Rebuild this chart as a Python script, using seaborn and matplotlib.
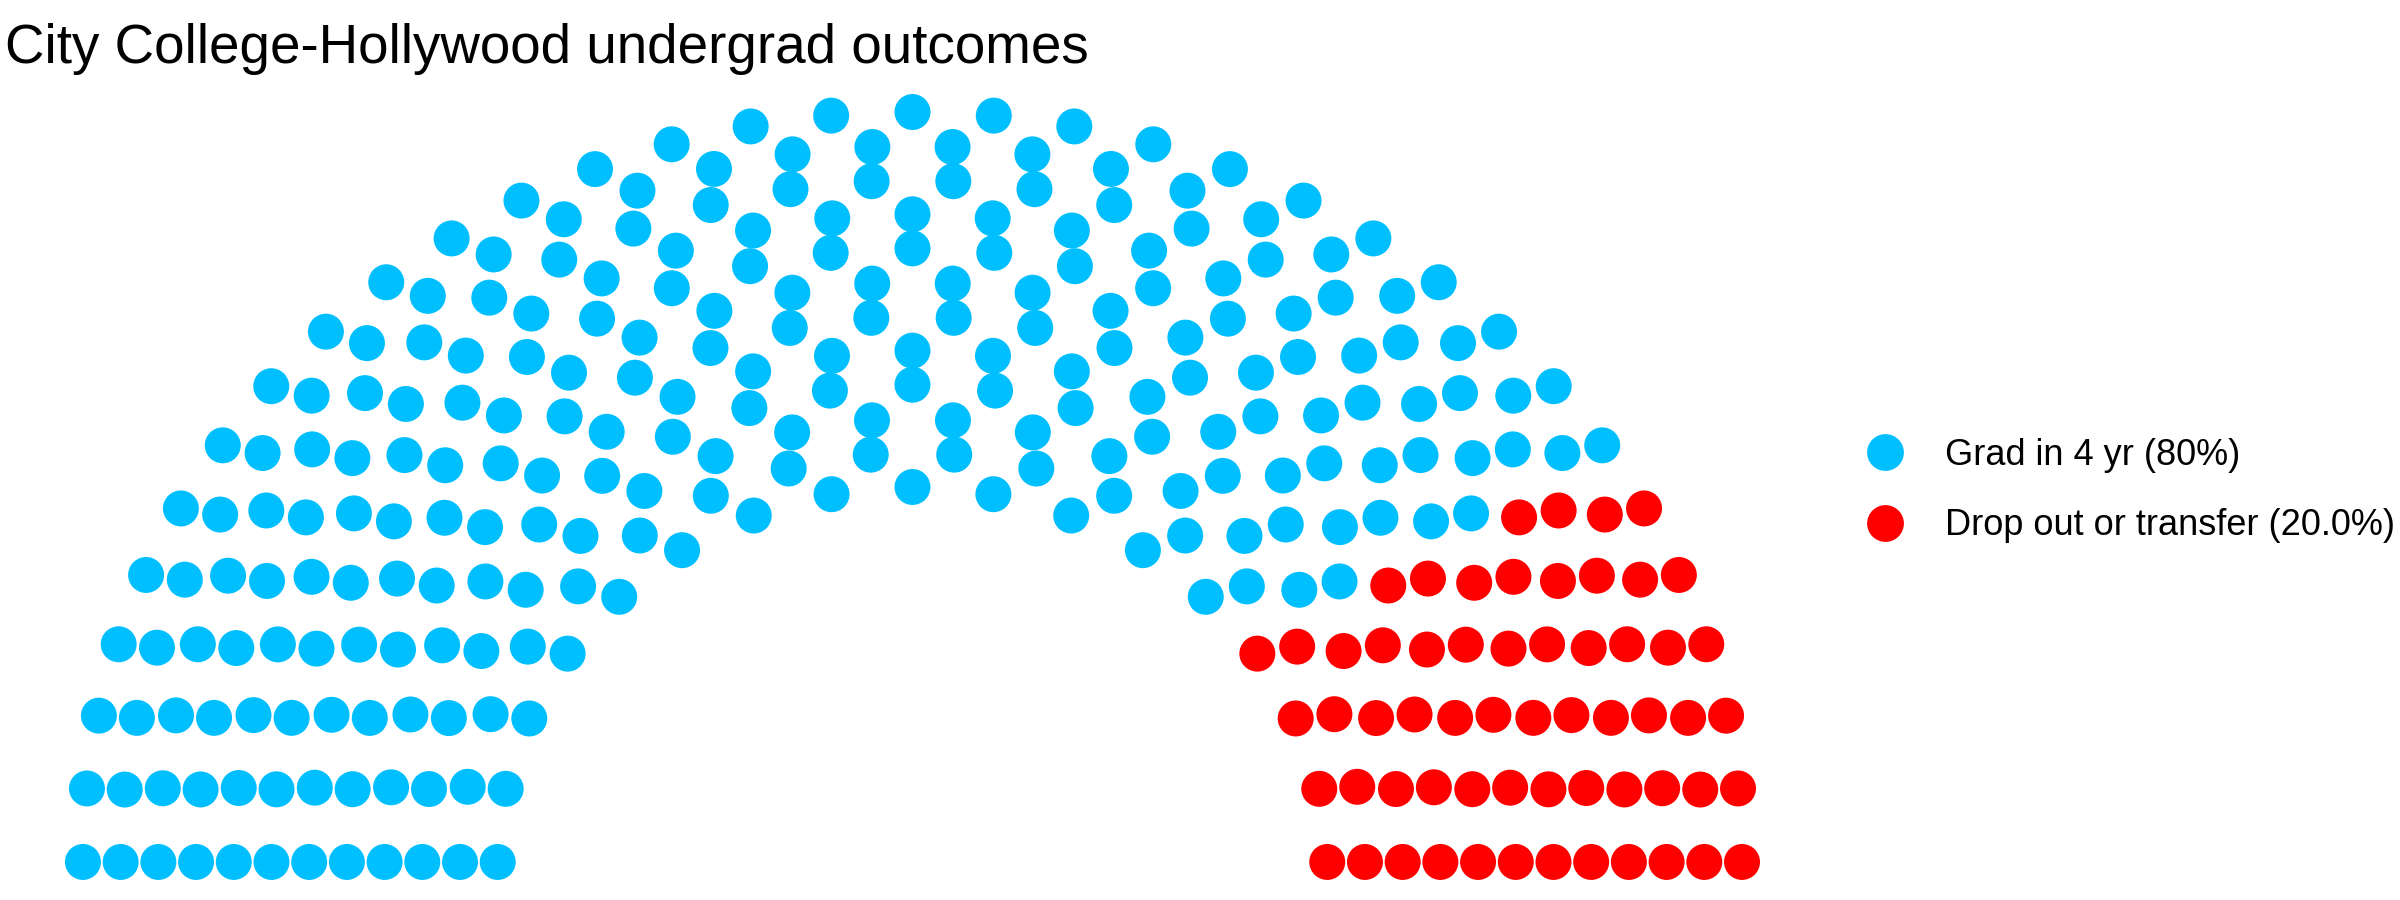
import numpy as np
import pandas as pd
import matplotlib
matplotlib.use("Agg")
import matplotlib.pyplot as plt
import seaborn as sns

# ---- data ----
title = "City College-Hollywood undergrad outcomes"
parties = ["Grad in 4 yr (80%)", "Drop out or transfer (20.0%)"]
seats = [240, 60]
colors = ["#00BFFF", "#FF0000"]
n_rows = 12

# ---- parliament (semicircle) layout, as in ggparliament ----
def calc_coordinates(N, M, limits=(1, 2), segment=0.5):
    radii = np.linspace(limits[0], limits[1], M)
    frames = []
    for i in range(M):
        cnt = int(np.round(N * radii[i] / radii[i:].sum()))
        theta = np.linspace(0, segment * 2 * np.pi, cnt)
        N -= cnt
        frames.append(pd.DataFrame({"x": radii[i] * np.cos(theta),
                                    "y": radii[i] * np.sin(theta),
                                    "row": i + 1, "theta": theta}))
    pts = pd.concat(frames, ignore_index=True)
    pts = pts.sort_values(["theta", "row"], ascending=[False, False]).reset_index(drop=True)
    return pts

df = calc_coordinates(sum(seats), n_rows)
df["party"] = np.repeat(parties, seats)

sns.set_theme(style="white")
plt.rcParams["font.family"] = ["Liberation Sans", "DejaVu Sans"]
plt.rcParams["text.color"] = "black"

fig = plt.figure(figsize=(24, 9), dpi=100)
ax = fig.add_axes([0.0, 0.0006, 0.7604, 0.9166])
sns.scatterplot(data=df, x="x", y="y", hue="party", palette=dict(zip(parties, colors)),
                hue_order=parties, s=671, linewidth=0, ax=ax, legend=False)
ax.set_xlim(-2.2, 2.2)
ax.set_ylim(-0.1, 2.1)
ax.set_axis_off()

from matplotlib.lines import Line2D
handles = [Line2D([], [], marker="o", linestyle="none", markersize=26.5,
                  markerfacecolor=c, markeredgewidth=0) for c in colors]
leg = fig.legend(handles, parties, loc="center left", bbox_to_anchor=(0.7746, 0.4550),
                 frameon=False, fontsize=26, borderpad=0, borderaxespad=0,
                 handlelength=1.45, handletextpad=0.92, labelspacing=0.98)
for t in leg.get_texts():
    t.set_color("black")

fig.text(0.002, 1 - 63 / 900, title, ha="left", va="baseline", fontsize=39.4, color="black")

fig.savefig("out.png", dpi=100, facecolor="white")
